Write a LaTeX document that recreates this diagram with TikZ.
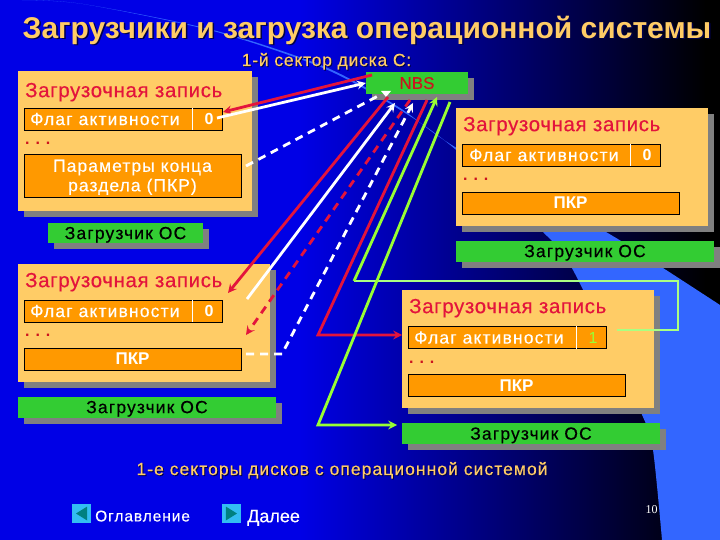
\documentclass[tikz,border=0pt]{standalone}
\usepackage{fontspec}
\setmainfont{Liberation Sans}
\newfontfamily\serifnum{Liberation Serif}
\usetikzlibrary{shadows}
\definecolor{bgblue}{RGB}{0,0,230}
\definecolor{bandblue}{RGB}{51,102,255}
\definecolor{cream}{RGB}{255,204,102}
\definecolor{panelorange}{RGB}{255,153,0}
\definecolor{boxgreen}{RGB}{51,204,51}
\definecolor{linered}{RGB}{227,20,60}
\definecolor{darkred}{RGB}{204,20,30}
\definecolor{linegreen}{RGB}{153,255,51}
\definecolor{palegreen}{RGB}{170,255,130}
\newcommand{\spacedfont}[2]{\fontsize{#1}{#1}\selectfont\addfontfeature{LetterSpace=#2,FakeBold=0.35}}
\tikzset{
  shadowed/.style={drop shadow={shadow xshift=6pt,shadow yshift=-6pt,fill=gray,opacity=1}},
  recbox/.style={fill=cream,minimum width=252pt,minimum height=118pt,inner sep=0pt,shadowed},
  loaderbox/.style={fill=boxgreen,minimum width=258pt,minimum height=21pt,inner sep=0pt,shadowed,text depth=0pt,
    font=\spacedfont{17.5}{6.5},text=black},
  flagbox/.style={draw=black,line width=0.7pt,fill=panelorange,minimum width=198pt,minimum height=22pt,inner sep=0pt},
  pkrbox/.style={draw=black,line width=0.7pt,fill=panelorange,minimum width=217pt,minimum height=22pt,inner sep=0pt,
    text depth=0pt,text=white,font=\fontsize{17}{19}\bfseries},
  rectitle/.style={anchor=west,inner sep=0pt,text=linered,text depth=0pt,font=\spacedfont{20.5}{3}},
  flagtext/.style={anchor=west,inner sep=0pt,text=white,text depth=0pt,font=\spacedfont{17.5}{6.5}},
  bittext/.style={inner sep=0pt,text=white,text depth=0pt,font=\fontsize{16}{18}\bfseries},
  dotstext/.style={anchor=west,inner sep=0pt,text=darkred,text depth=0pt,font=\fontsize{16}{17}\bfseries},
  capt/.style={inner sep=0pt,text=cream,text depth=0pt},
  capshadow/.style={inner sep=0pt,text=black!70!blue,text depth=0pt},
  redline/.style={linered,line width=2.8pt,->},
  whiteline/.style={white,line width=2.8pt,->},
  dashline/.style={dash pattern=on 8pt off 6pt},
  divline/.style={white,line width=1pt},
  greenline/.style={linegreen,line width=2.8pt},
  navbtn/.style={fill=cyan!80!white,minimum size=19pt,inner sep=0pt},
}
\begin{document}
\begin{tikzpicture}[x=1pt,y=-1pt,>=stealth]
  \useasboundingbox (0,0) rectangle (720,540);
  % background
  \fill[bgblue] (0,0) rectangle (301,540);
  \shade[left color=bgblue,right color=black] (300,0) rectangle (706,540);
  \fill[black] (705,0) rectangle (720,540);
  \fill[bandblue] plot[smooth] coordinates {(20,0) (83,4) (213,30) (323,66) (397,106) (455,147) (606,232) (663,268) (720,305)}
    -- (720,540) -- (662,540)
    -- plot[smooth] coordinates {(662,540) (653,450) (643,417) (573,270) (543,232) (455,149) (397,108) (323,68) (213,31) (83,4) (20,0)};

  % title
  \node[capshadow,font=\fontsize{30}{32}\bfseries] at (368.5,28.5) {Загрузчики и загрузка операционной системы};
  \node[capt,font=\fontsize{30}{32}\bfseries] (title) at (367,27) {Загрузчики и загрузка операционной системы};
  \node[capshadow,font=\spacedfont{17.5}{4.5}] at (327.5,60.5) {1-й сектор диска С:};
  \node[capt,font=\spacedfont{17.5}{4.5}] (sector) at (326.5,59.5) {1-й сектор диска С:};

  % NBS
  \node[loaderbox,minimum width=102pt,minimum height=22pt] (nbs) at (417,83) {};
  \node[inner sep=0pt,text=darkred,text depth=0pt,font=\spacedfont{17}{0}] (nbstext) at (417,83) {NBS};

  % first record
  \node[recbox,minimum width=234pt,minimum height=140pt] (rec1) at (135,141) {};
  \node[rectitle] (title1) at (25,90) {Загрузочная запись};
  \node[flagbox] (flag1) at (123,119) {};
  \draw[divline] (192,108) -- (192,130);
  \node[flagtext] (ftext1) at (30,119) {Флаг активности};
  \node[bittext] (bit1) at (209,119) {0};
  \node[dotstext] (dots1) at (25,143) {. . .};
  \node[pkrbox,font=\spacedfont{17.5}{6},minimum height=43pt,align=center] (pkr1) at (132.5,175.5) {Параметры конца\\[2pt]раздела (ПКР)};
  \node[loaderbox,minimum width=155pt,minimum height=20pt] (loader1) at (125.5,233) {Загрузчик ОС};

  % second record
  \node[recbox] (rec2) at (582,167) {};
  \node[rectitle] (title2) at (463,124) {Загрузочная запись};
  \node[flagbox] (flag2) at (561.5,155) {};
  \draw[divline] (630,144) -- (630,166);
  \node[flagtext] (ftext2) at (469,155) {Флаг активности};
  \node[bittext] (bit2) at (647,155) {0};
  \node[dotstext] (dots2) at (463,179) {. . .};
  \node[pkrbox] (pkr2) at (570.5,203) {ПКР};
  \node[loaderbox] (loader2) at (585,251) {Загрузчик ОС};

  % third record
  \node[recbox] (rec3) at (144,323) {};
  \node[rectitle] (title3) at (25,280) {Загрузочная запись};
  \node[flagbox] (flag3) at (123,311) {};
  \draw[divline] (192,300) -- (192,322);
  \node[flagtext] (ftext3) at (30,311) {Флаг активности};
  \node[bittext] (bit3) at (209,311) {0};
  \node[dotstext] (dots3) at (25,335) {. . .};
  \node[pkrbox] (pkr3) at (132.5,359) {ПКР};
  \node[loaderbox] (loader3) at (147,407) {Загрузчик ОС};

  % fourth record
  \node[recbox] (rec4) at (528,349) {};
  \node[rectitle] (title4) at (409,306) {Загрузочная запись};
  \node[flagbox] (flag4) at (507.5,337.5) {};
  \draw[divline] (576,326) -- (576,349);
  \node[flagtext] (ftext4) at (414,337.5) {Флаг активности};
  \node[bittext,text=linegreen,font=\fontsize{16}{18}\selectfont] (bit4) at (593,338) {1};
  \node[dotstext] (dots4) at (409,362) {. . .};
  \node[pkrbox] (pkr4) at (516.5,385.5) {ПКР};
  \node[loaderbox] (loader4) at (531,433.5) {Загрузчик ОС};

  % free ends of the lines
  \coordinate (r1a) at (372,75);
  \coordinate (r1b) at (223,112);
  \coordinate (w1a) at (217,118);
  \coordinate (d1a) at (246,166);
  \coordinate (d1b) at (378,96);
  \coordinate (r2a) at (388,97);
  \coordinate (r2b) at (228,293);
  \coordinate (w2a) at (247,299);
  \coordinate (w2b) at (395,103);
  \coordinate (r3a) at (410,100);
  \coordinate (r3b) at (246,335);
  \coordinate (d2a) at (246,354);
  \coordinate (d2b) at (282,354);
  \coordinate (d2c) at (413,103);
  \coordinate (r4a) at (427,100);
  \coordinate (r4b) at (318,335);
  \coordinate (r4c) at (402,335);
  \coordinate (g1a) at (617,330);
  \coordinate (g1b) at (678,330);
  \coordinate (g1c) at (678,281);
  \coordinate (g1d) at (354,281);
  \coordinate (g1e) at (437,97);
  \coordinate (g2a) at (450,102);
  \coordinate (g2b) at (318,425);
  \coordinate (g2c) at (397,425);

  % lines between the sectors
  \draw[redline] (r1a) -- (r1b);
  \draw[whiteline] (w1a) -- (nbs.west);
  \draw[white,line width=2.8pt,dashline] (d1a) -- (d1b);
  \fill[white] (381,91) -- (391,91) -- (386,97) -- cycle;
  \draw[redline] (r2a) -- (r2b);
  \draw[whiteline] (w2a) -- (w2b);
  \draw[redline,dashline] (r3a) -- (r3b);
  \draw[whiteline,dashline] (d2a) -- (d2b) -- (d2c);
  \draw[redline] (r4a) -- (r4b) -- (r4c);
  \draw[palegreen,line width=1.8pt] (g1a) -- (g1b) -- (g1c) -- (g1d);
  \draw[greenline,->] (g1d) -- (g1e);
  \draw[greenline,->] (g2a) -- (g2b) -- (g2c);

  % bottom of the slide
  \node[capshadow,font=\spacedfont{17.5}{6}] at (343,469.5) {1-е секторы дисков с операционной системой};
  \node[capt,font=\spacedfont{17.5}{6}] (note) at (342,468.5) {1-е секторы дисков с операционной системой};
  \node[navbtn] (prevbtn) at (81.5,513.5) {};
  \fill[teal] (prevbtn.east) ++(-4,-7) -- ++(0,14) -- (76,513.5) -- cycle;
  \node[inner sep=0pt,anchor=west,text=white,text depth=0pt,font=\spacedfont{15.5}{6}] (prev) at (95,516) {Оглавление};
  \node[navbtn] (nextbtn) at (231.5,513.5) {};
  \fill[teal] (nextbtn.west) ++(4,-7) -- ++(0,14) -- (237,513.5) -- cycle;
  \node[inner sep=0pt,anchor=west,text=white,text depth=0pt,font=\spacedfont{18}{0}] (next) at (247,516) {Далее};
  \node[inner sep=0pt,text=white,font=\fontsize{12}{14}\serifnum] (pageno) at (651.5,510) {10};
\end{tikzpicture}
\end{document}
